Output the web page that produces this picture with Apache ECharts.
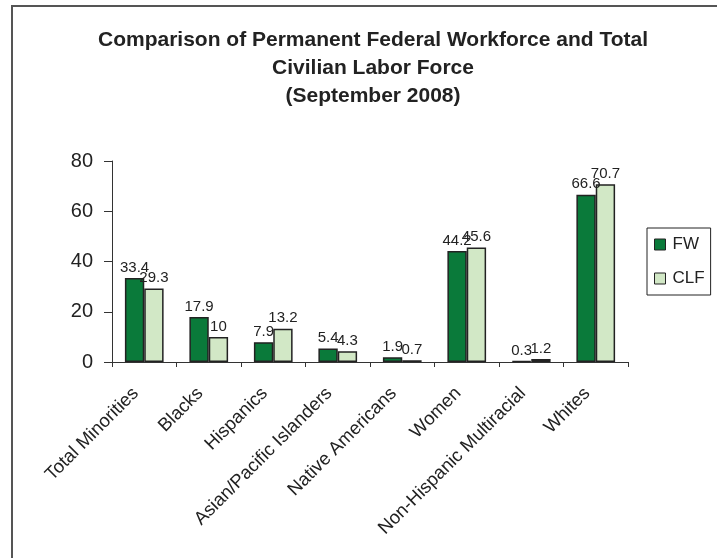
<!DOCTYPE html>
<html><head><meta charset="utf-8">
<script src="https://cdn.jsdelivr.net/npm/echarts@6/dist/echarts.min.js"></script>
<style>html,body{margin:0;padding:0;background:#fff}#c{width:717px;height:558px}</style>
</head><body><div id="c"></div>
<script>
const categories = ["Total Minorities","Blacks","Hispanics","Asian/Pacific Islanders","Native Americans","Women","Non-Hispanic Multiracial","Whites"];
const fwValues = [33.4,17.9,7.9,5.4,1.9,44.2,0.3,66.6];
const clfValues = [29.3,10,13.2,4.3,0.7,45.6,1.2,70.7];
const yTicks = [0,20,40,60,80];
const titleLines = ["Comparison of Permanent Federal Workforce and Total","Civilian Labor Force","(September 2008)"];

const chart = echarts.init(document.getElementById('c'), null, {renderer:'canvas'});
const font = 'Liberation Sans, Arial, sans-serif';
const lbl = {show:true, position:'top', distance:3, fontFamily:font, fontSize:15, color:'#222'};
chart.setOption({
  animation:false,
  backgroundColor:'#fff',
  graphic:[{type:'rect', shape:{x:12,y:6,width:740,height:600}, style:{fill:'none', stroke:'#555', lineWidth:2}}],
  title:{text:titleLines.join('\n'), left:368, textAlign:'center', top:21,
    textStyle:{fontFamily:font, fontSize:21, fontWeight:'bold', color:'#222', lineHeight:28}},
  legend:{orient:'vertical', left:647, top:228, padding:[8,6,8,7], itemGap:17,
    borderColor:'#222', borderWidth:1, itemWidth:11, itemHeight:11,
    textStyle:{fontFamily:font, fontSize:17, color:'#222', padding:[0,0,0,2]},
    data:[{name:'FW', icon:'rect', itemStyle:{borderColor:'#222',borderWidth:1}},{name:'CLF', icon:'rect', itemStyle:{borderColor:'#222',borderWidth:1}}]},
  grid:{left:112, right:89, top:161, bottom:196, containLabel:false},
  xAxis:{type:'category', data:categories,
    axisLine:{lineStyle:{color:'#333'}}, axisTick:{show:true, length:5, lineStyle:{color:'#333'}},
    axisLabel:{rotate:45, interval:0, margin:20, padding:[0,12,0,0], fontFamily:font, fontSize:18.5, color:'#222'}},
  yAxis:{type:'value', min:0, max:80, interval:20,
    axisLine:{show:true, lineStyle:{color:'#333'}}, axisTick:{show:true, length:8, lineStyle:{color:'#333'}},
    splitLine:{show:false},
    axisLabel:{margin:19, fontFamily:font, fontSize:20, color:'#222', formatter:v=>yTicks.includes(v)?String(v):''}},
  series:[
    {name:'FW', type:'bar', data:fwValues, barGap:'0%', barCategoryGap:'40%',
      itemStyle:{color:'#0a7a3a', borderColor:'#222', borderWidth:1.5}, label:lbl},
    {name:'CLF', type:'bar', data:clfValues,
      itemStyle:{color:'#d2e8c6', borderColor:'#222', borderWidth:1.5}, label:lbl}
  ]
});
</script></body></html>
